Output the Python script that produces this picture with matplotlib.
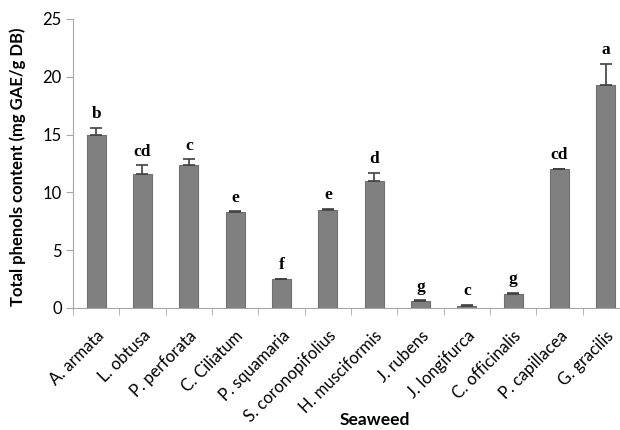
import matplotlib.pyplot as plt
import numpy as np

species = ["A. armata", "L. obtusa", "P. perforata", "C. Ciliatum", "P. squamaria",
           "S. coronopifolius", "H. musciformis", "J. rubens", "J. longifurca",
           "C. officinalis", "P. capillacea", "G. gracilis"]
phenols = [15.0, 11.6, 12.4, 8.3, 2.5, 8.5, 11.0, 0.6, 0.2, 1.2, 12.0, 19.3]
sd = [0.6, 0.75, 0.45, 0.05, 0.05, 0.05, 0.7, 0.05, 0.05, 0.08, 0.05, 1.85]
letters = ["b", "cd", "c", "e", "f", "e", "d", "g", "c", "g", "cd", "a"]

axis_grey = "#a6a6a6"

fig = plt.figure(figsize=(6.2, 4.3), dpi=100)
ax = fig.add_axes([73 / 620, 1 - 308 / 430, 556 / 620, 289 / 430])

x = np.arange(len(species))
ax.bar(x, phenols, width=0.41, color="#808080", edgecolor="#707070", linewidth=0.8, zorder=2)
ax.errorbar(x, phenols, yerr=[np.zeros(len(sd)), sd], fmt="none", ecolor="#404040",
            elinewidth=1.2, capsize=4, capthick=1.2, zorder=3)

for xi, h, e, lab in zip(x, phenols, sd, letters):
    ax.annotate(lab, (xi, h + e), xytext=(0, 7), textcoords="offset points",
                ha="center", va="baseline", fontsize=12.5, fontweight="bold",
                family="Liberation Serif")

ax.set_xlim(-0.5, len(species) - 0.5)
ax.set_ylim(0, 25)
ax.set_yticks([0, 5, 10, 15, 20, 25])
ax.tick_params(axis="y", labelsize=12, length=5, color=axis_grey, pad=3)
for t in ax.get_yticklabels():
    t.set_family("Lato")

ax.set_xticks(x)
ax.set_xticklabels(species, rotation=45, ha="right", rotation_mode="anchor",
                   fontsize=12, family="Lato")
ax.tick_params(axis="x", length=0, pad=14)
ax.set_xticks(np.arange(len(species) + 1) - 0.5, minor=True)
ax.tick_params(axis="x", which="minor", length=5, color=axis_grey)

for side in ["top", "right"]:
    ax.spines[side].set_visible(False)
for side in ["left", "bottom"]:
    ax.spines[side].set_color(axis_grey)

ax.set_ylabel("Total phenols content (mg GAE/g DB)", fontsize=12, fontweight="bold", family="Lato")
ax.yaxis.set_label_coords(-0.085, 0.49)
ax.set_xlabel("Seaweed", fontsize=12.5, fontweight="bold", family="Lato")
ax.xaxis.set_label_coords(0.543, -0.36)

fig.savefig("out.png", dpi=100)
